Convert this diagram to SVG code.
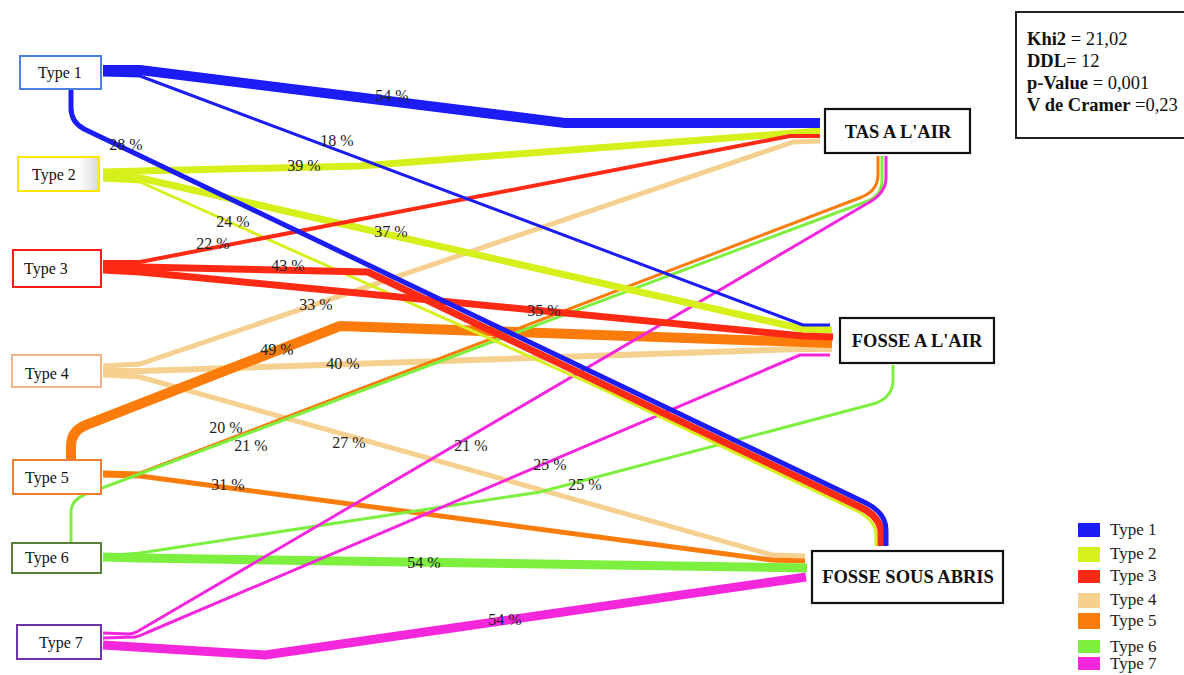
<svg xmlns="http://www.w3.org/2000/svg" width="1184" height="675" viewBox="0 0 1184 675">
  <style>
    .src rect { fill: #ffffff; stroke-width: 2; }
    .src text { font-family: "Liberation Serif", "Times New Roman", serif; font-size: 16px; fill: #111; text-anchor: middle; }
    .dst rect { fill: #ffffff; stroke: #111; stroke-width: 2.2; }
    .dst text { font-family: "Liberation Serif", "Times New Roman", serif; font-size: 18.5px; font-weight: bold; fill: #111; text-anchor: middle; }
    .flow { fill: none; stroke-linejoin: round; stroke-linecap: butt; }
    .t1 { stroke: #1c1cf5; }
    .t2 { stroke: #d6f01c; }
    .t3 { stroke: #ff2a14; }
    .t4 { stroke: #f6d08e; }
    .t5 { stroke: #fb7c0a; }
    .t6 { stroke: #7def3f; }
    .t7 { stroke: #f427dc; }
    .pct { font-family: "Liberation Serif", "Times New Roman", serif; font-size: 16px; fill: #222; text-anchor: middle; }
    .stat { font-family: "Liberation Serif", "Times New Roman", serif; font-size: 18.5px; fill: #111; }
    .stat tspan.b { font-weight: bold; }
    .leg { font-family: "Liberation Serif", "Times New Roman", serif; font-size: 17px; fill: #222; }
  </style>
  <defs>
    <linearGradient id="shade2" x1="0" y1="0" x2="1" y2="0">
      <stop offset="0.75" stop-color="#ffffff"/>
      <stop offset="1" stop-color="#d9d9d9"/>
    </linearGradient>
  </defs>

  <rect width="1184" height="675" fill="#ffffff"/>

  <!-- flows from each type to the three storage modes -->
  <g id="connectors">
    <!-- Type 4 -->
    <path class="flow t4" stroke-width="5" d="M103,366 L140,364 L793,142 L820,141"/>
    <path class="flow t4" stroke-width="6" d="M103,371 L140,371 L803,349 L832,349"/>
    <path class="flow t4" stroke-width="5" d="M103,375 L140,377 L772,555 L805,556"/>
    <!-- Type 5 -->
    <path class="flow t5" stroke-width="10" d="M71,460 L71,446 Q71,431 86,425 L340,326 L832,343"/>
    <path class="flow t5" stroke-width="3" d="M103,472 L140,473 L862,197 Q878,190 878,175 L878,156"/>
    <path class="flow t5" stroke-width="5" d="M103,475 L140,476 L772,560 L805,561"/>
    <!-- Type 6 -->
    <path class="flow t6" stroke-width="3" d="M71,543 L71,512 Q71,500 86,494 L868,201 Q882,195 882,180 L882,156"/>
    <path class="flow t6" stroke-width="3" d="M103,556 L140,553 L540,492 L873,404 Q893,398 893,380 L893,365"/>
    <path class="flow t6" stroke-width="9" d="M103,557 L140,558 L807,568"/>
    <!-- Type 7 -->
    <path class="flow t7" stroke-width="3" d="M103,633 L128,634 Q134,634 140,630 L868,203 Q886,193 886,178 L886,156"/>
    <path class="flow t7" stroke-width="3" d="M103,638 L135,637 Q140,636 146,633 L800,355 L830,355"/>
    <path class="flow t7" stroke-width="9" d="M103,645 L265,655 L806,577"/>
    <!-- Type 2 -->
    <path class="flow t2" stroke-width="7" d="M103,172 L140,171 L360,166 L820,131"/>
    <path class="flow t2" stroke-width="7" d="M103,177 L140,178 L803,329 L832,330"/>
    <path class="flow t2" stroke-width="3" d="M103,180 L140,182 L600,388 L855,510 Q876,520 876,535 L876,546"/>
    <!-- Type 3 -->
    <path class="flow t3" stroke-width="4" d="M103,262 L140,262 L790,136 L820,136"/>
    <path class="flow t3" stroke-width="7" d="M103,270 L140,272 L803,336 L833,337"/>
    <path class="flow t3" stroke-width="7" d="M103,266 L140,267 L368,272 L860,507 Q881,517 881,533 L881,546"/>
    <!-- Type 1 -->
    <path class="flow t1" stroke-width="10" d="M103,70 L140,70 L565,123 L820,123"/>
    <path class="flow t1" stroke-width="3" d="M103,75 L140,76 L803,325 L830,325"/>
    <path class="flow t1" stroke-width="5" d="M71,89 L71,108 Q71,122 84,129 L866,503 Q886,513 886,530 L886,546"/>
  </g>

  <!-- percentage labels -->
  <g id="labels">
    <text class="pct" x="392" y="101">54 %</text>
    <text class="pct" x="126" y="150">28 %</text>
    <text class="pct" x="337" y="146">18 %</text>
    <text class="pct" x="304" y="171">39 %</text>
    <text class="pct" x="233" y="227">24 %</text>
    <text class="pct" x="391" y="237">37 %</text>
    <text class="pct" x="213" y="249">22 %</text>
    <text class="pct" x="288" y="271">43 %</text>
    <text class="pct" x="316" y="310">33 %</text>
    <text class="pct" x="544" y="316">35 %</text>
    <text class="pct" x="277" y="355">49 %</text>
    <text class="pct" x="343" y="369">40 %</text>
    <text class="pct" x="226" y="433">20 %</text>
    <text class="pct" x="251" y="451">21 %</text>
    <text class="pct" x="349" y="448">27 %</text>
    <text class="pct" x="471" y="451">21 %</text>
    <text class="pct" x="550" y="470">25 %</text>
    <text class="pct" x="585" y="490">25 %</text>
    <text class="pct" x="228" y="490">31 %</text>
    <text class="pct" x="424" y="568">54 %</text>
    <text class="pct" x="505" y="625">54 %</text>
  </g>

  <!-- source nodes -->
  <g id="type1" class="src"><rect x="20" y="56" width="81" height="33" stroke="#4a7fdc"/><text x="60" y="78">Type 1</text></g>
  <g id="type2" class="src"><rect x="18" y="157" width="81" height="34" stroke="#ffe600" style="fill:url(#shade2)"/><text x="54" y="180">Type 2</text></g>
  <g id="type3" class="src"><rect x="13" y="250" width="88" height="37" stroke="#ff1a1a"/><text x="46" y="274">Type 3</text></g>
  <g id="type4" class="src"><rect x="12" y="355" width="89" height="32" stroke="#f3b18c"/><text x="47" y="379">Type 4</text></g>
  <g id="type5" class="src"><rect x="13" y="460" width="88" height="34" stroke="#ef7d32"/><text x="47" y="483">Type 5</text></g>
  <g id="type6" class="src"><rect x="12" y="543" width="89" height="30" stroke="#587f3c"/><text x="47" y="563">Type 6</text></g>
  <g id="type7" class="src"><rect x="17" y="625" width="84" height="34" stroke="#6e34a8"/><text x="61" y="648">Type 7</text></g>

  <!-- storage modes -->
  <g id="tas-a-lair" class="dst"><rect x="825" y="109" width="145" height="44"/><text x="898" y="138">TAS A L'AIR</text></g>
  <g id="fosse-a-lair" class="dst"><rect x="840" y="318" width="154" height="45"/><text x="917" y="347">FOSSE A L'AIR</text></g>
  <g id="fosse-sous-abris" class="dst"><rect x="812" y="551" width="191" height="52"/><text x="908" y="583">FOSSE SOUS ABRIS</text></g>

  <!-- test statistics -->
  <g id="stats">
    <rect x="1016" y="12" width="170" height="126" fill="#ffffff" stroke="#222" stroke-width="2"/>
    <text class="stat" x="1027" y="45"><tspan class="b">Khi2</tspan> = 21,02</text>
    <text class="stat" x="1027" y="67"><tspan class="b">DDL</tspan>= 12</text>
    <text class="stat" x="1027" y="89"><tspan class="b">p-Value</tspan> = 0,001</text>
    <text class="stat" x="1027" y="111"><tspan class="b">V de Cramer</tspan> =0,23</text>
  </g>

  <!-- legend -->
  <g id="legend">
    <rect x="1078" y="523" width="22" height="14" fill="#1c1cf5"/><text class="leg" x="1110" y="535">Type 1</text>
    <rect x="1078" y="547" width="22" height="15" fill="#d6f01c"/><text class="leg" x="1110" y="559">Type 2</text>
    <rect x="1078" y="570" width="22" height="13" fill="#ff2a14"/><text class="leg" x="1110" y="581">Type 3</text>
    <rect x="1078" y="593" width="22" height="15" fill="#f6d08e"/><text class="leg" x="1110" y="605">Type 4</text>
    <rect x="1078" y="613" width="22" height="16" fill="#fb7c0a"/><text class="leg" x="1110" y="626">Type 5</text>
    <rect x="1078" y="640" width="22" height="13" fill="#7def3f"/><text class="leg" x="1110" y="652">Type 6</text>
    <rect x="1078" y="657" width="22" height="13" fill="#f427dc"/><text class="leg" x="1110" y="669">Type 7</text>
  </g>
</svg>
